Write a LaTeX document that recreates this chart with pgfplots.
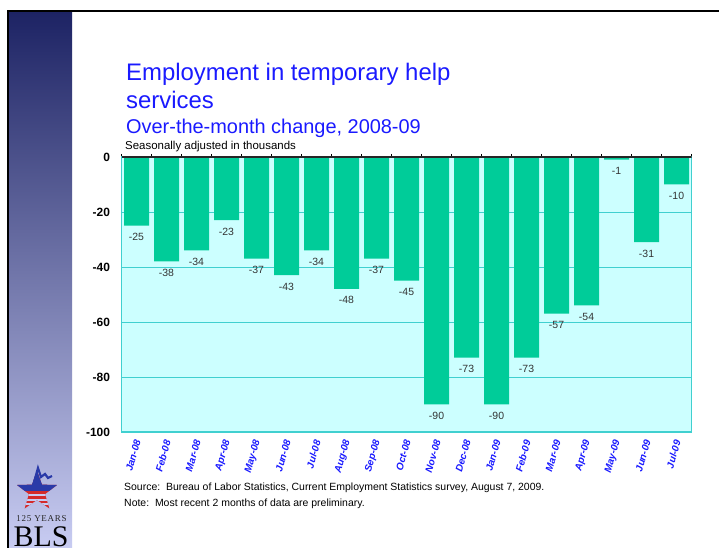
\documentclass[border=0pt]{standalone}
\usepackage{fontspec}
\setmainfont{Liberation Sans}
\newfontfamily\blsserif{Liberation Serif}
\usepackage{pgfplots}
\pgfplotsset{compat=1.18}
\definecolor{barg}{HTML}{00CC99}
\definecolor{plotbg}{HTML}{CCFFFF}
\definecolor{gridc}{HTML}{40D0D0}
\definecolor{titleb}{HTML}{1A1AFF}
\definecolor{navy}{HTML}{1D2364}
\definecolor{lav}{HTML}{C8CCF2}
\definecolor{blsred}{HTML}{D42A2A}
\definecolor{blsblue}{HTML}{2A3AA8}
\begin{document}
\begin{tikzpicture}
\begin{scope}[x=1bp,y=1bp]
\path[use as bounding box] (0,0) rectangle (719,548);
\fill[white] (0,0) rectangle (719,548);
\shade[top color=navy, bottom color=lav] (9,0) rectangle (72,536);
\draw[black, line width=2bp] (8,0) -- (8,537) -- (719,537);

% BLS logo
\begin{scope}[shift={(37,56.5)}]
  \path[clip] (90:21) -- (126:8.5) -- (162:21) -- (198:8.5) -- (234:21) -- (270:8.5)
     -- (306:21) -- (342:8.5) -- (18:21) -- (54:8.5) -- cycle;
  \fill[blsred] (-25,-25) rectangle (25,25);
  \foreach \yy in {-14,-9.5,-5} \fill[lav] (-25,\yy) rectangle (25,\yy+2.2);
  \fill[blsblue] (-25,0) rectangle (25,25);
\end{scope}
\draw[blsblue, line width=2.2bp] (33,62) -- (38,80) -- (41,71) -- (45,74) -- (48,70) -- (52,72);
\node[anchor=base, inner sep=0pt, font=\blsserif\fontsize{9}{10}\selectfont\addfontfeature{LetterSpace=8}, text=black!85] at (41.5,26) {125 YEARS};
\node[anchor=base, font=\blsserif\fontsize{30}{30}\selectfont, inner sep=0pt] at (41,1) {BLS};

% titles
\node[anchor=base west, inner sep=0pt, text=titleb, font=\fontsize{24}{28}\selectfont] at (126,467) {Employment in temporary help};
\node[anchor=base west, inner sep=0pt, text=titleb, font=\fontsize{24}{28}\selectfont] at (126,439) {services};
\node[anchor=base west, inner sep=0pt, text=titleb, font=\fontsize{20}{24}\selectfont] at (126,414) {Over-the-month change, 2008-09};
\node[anchor=base west, inner sep=0pt, font=\fontsize{11.5}{13}\selectfont] at (125,398) {Seasonally adjusted in thousands};

\node[anchor=base west, inner sep=0pt, font=\fontsize{10.5}{12}\selectfont] at (124,57) {Source:\ \ Bureau of Labor Statistics, Current Employment Statistics survey, August 7, 2009.};
\node[anchor=base west, inner sep=0pt, font=\fontsize{10.5}{12}\selectfont] at (124,41) {Note:\ \ Most recent 2 months of data are preliminary.};
\end{scope}

\begin{axis}[
    at={(121.5bp,116bp)}, anchor=south west,
    width=570bp, height=275bp, scale only axis,
    ybar, bar width=25bp,
    xmin=-0.5, xmax=18.5, ymin=-100, ymax=0,
    axis background/.style={fill=plotbg},
    axis line style={gridc, line width=1.2bp},
    ymajorgrids, grid style={gridc, line width=0.8bp},
    xtick={0,...,18},
    xticklabels={Jan-08,Feb-08,Mar-08,Apr-08,May-08,Jun-08,Jul-08,Aug-08,Sep-08,Oct-08,Nov-08,Dec-08,Jan-09,Feb-09,Mar-09,Apr-09,May-09,Jun-09,Jul-09},
    minor xtick={-0.5,0.5,...,18.5},
    major tick length=0pt, minor tick length=3bp,
    minor x tick style={black, line width=0.8bp},
    xtick pos=upper, xticklabel pos=lower,
    ytick={0,-20,-40,-60,-80,-100},
    yticklabels={0,-20,-40,-60,-80,-100},
    ytick pos=left,
    xticklabel style={yshift=-5bp, xshift=2bp, rotate=74, anchor=east, text=titleb,
        font=\bfseries\itshape\fontsize{10}{12}\selectfont},
    yticklabel style={anchor=east, font=\bfseries\fontsize{12}{14}\selectfont, xshift=-8bp},
    point meta=y,
    nodes near coords={\pgfmathprintnumber[assume math mode=true]{\pgfplotspointmeta}},
    every node near coord/.append style={anchor=north, yshift=-4bp,
        font=\fontsize{10.5}{12}\selectfont, text=black!80},
]
\addplot[fill=barg, draw=none] coordinates {
(0,-25) (1,-38) (2,-34) (3,-23) (4,-37) (5,-43) (6,-34) (7,-48) (8,-37) (9,-45)
(10,-90) (11,-73) (12,-90) (13,-73) (14,-57) (15,-54) (16,-1) (17,-31) (18,-10)};
\draw[black!85, line width=1.2bp] (axis cs:-0.5,0) -- (axis cs:18.5,0);
\end{axis}
\end{tikzpicture}
\end{document}
